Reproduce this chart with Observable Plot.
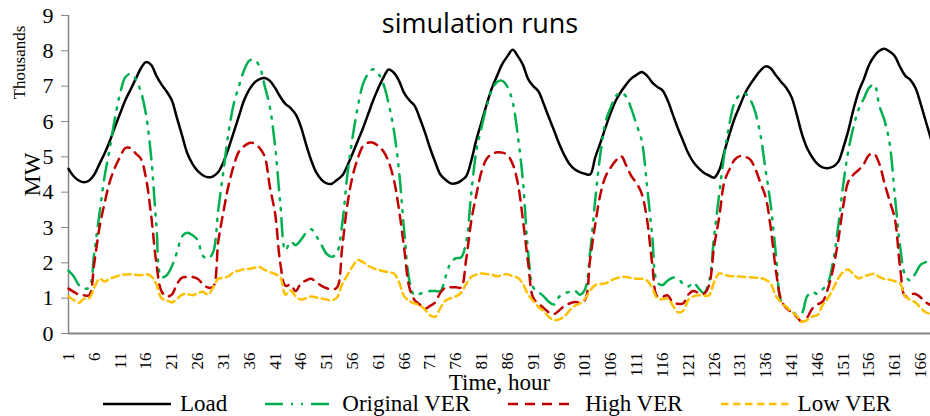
<!DOCTYPE html>
<html><head><meta charset="utf-8">
<script src="https://cdn.jsdelivr.net/npm/d3@7"></script>
<script src="https://cdn.jsdelivr.net/npm/@observablehq/plot@0.6"></script>
<style>
body{margin:0;background:#fff;}
#wrap{position:relative;width:930px;height:416px;overflow:hidden;font-family:"Liberation Serif","Times New Roman",serif;background:#fff;}
#title{position:absolute;left:330px;width:300px;top:9px;text-align:center;font:27px/27px "Open Sans",sans-serif;color:#000;}
#legend{position:relative;display:flex;align-items:center;height:23px;margin-top:-6px;padding-left:103px;font-size:23px;line-height:23px;color:#000;white-space:nowrap;}
.item{display:flex;align-items:center;margin-right:38px;}
.item svg{margin-right:9px;display:block;}
</style></head><body>
<div id="wrap"><div id="chart"></div><div id="legend"></div><div id="title">simulation runs</div></div>
<script>
const hours = d3.range(1, 169);
const xTicks = [1,6,11,16,21,26,31,36,41,46,51,56,61,66,71,76,81,86,91,96,101,106,111,116,121,126,131,136,141,146,151,156,161,166];
const yTicks = [0,1,2,3,4,5,6,7,8,9];
const seriesNames = ["Load", "Original VER", "High VER", "Low VER"];

const load = [
4.66,4.45,4.33,4.28,4.33,4.50,4.80,5.10,5.45,5.85,
6.23,6.60,6.90,7.20,7.50,7.68,7.60,7.30,7.05,6.85,
6.60,6.10,5.60,5.10,4.80,4.60,4.48,4.42,4.45,4.57,
4.85,5.25,5.70,6.15,6.60,6.90,7.10,7.20,7.23,7.15,
6.95,6.70,6.50,6.38,6.20,5.85,5.35,4.90,4.55,4.35,
4.25,4.24,4.35,4.47,4.75,5.09,5.45,5.80,6.20,6.60,
6.95,7.25,7.47,7.38,7.15,6.80,6.60,6.45,6.10,5.70,
5.25,4.85,4.50,4.35,4.25,4.25,4.32,4.45,4.90,5.50,
6.00,6.50,6.95,7.30,7.63,7.85,8.03,7.85,7.60,7.20,
7.00,6.85,6.50,6.12,5.75,5.37,5.05,4.80,4.65,4.57,
4.52,4.50,4.99,5.40,5.84,6.25,6.60,6.85,7.05,7.22,
7.32,7.40,7.30,7.11,6.98,6.88,6.60,6.20,5.80,5.45,
5.10,4.85,4.68,4.55,4.47,4.41,4.62,5.15,5.65,6.10,
6.45,6.80,7.05,7.26,7.45,7.56,7.50,7.30,7.12,6.95,
6.69,6.20,5.65,5.25,4.99,4.80,4.70,4.68,4.72,4.85,
5.25,5.75,6.35,6.85,7.20,7.60,7.85,8.00,8.06,7.98,
7.85,7.55,7.30,7.18,6.95,6.50,6.00,5.50];

const originalVER = [
1.78,1.62,1.37,1.27,1.30,2.30,3.40,4.45,5.25,6.10,
6.80,7.25,7.35,7.20,6.85,6.20,5.00,3.10,1.60,1.65,
1.90,2.30,2.75,2.85,2.78,2.65,2.20,2.12,2.30,3.50,
4.60,5.70,6.50,7.00,7.45,7.72,7.75,7.55,7.00,6.40,
5.30,3.70,2.35,2.60,2.50,2.65,2.85,2.95,2.75,2.50,
2.25,2.17,2.30,3.10,4.50,5.55,6.40,7.05,7.35,7.48,
7.35,7.05,6.50,5.75,4.60,2.90,1.50,1.08,1.12,1.17,
1.20,1.20,1.20,1.60,2.00,2.13,2.15,2.60,4.00,5.20,
5.85,6.45,6.90,7.12,7.15,6.98,6.55,5.60,4.30,2.30,
1.30,1.18,1.05,0.90,0.82,1.04,1.14,1.18,1.22,1.10,
1.25,2.30,3.80,5.10,6.00,6.40,6.72,6.82,6.70,6.35,
5.90,5.45,4.20,2.80,1.45,1.37,1.50,1.58,1.56,1.40,
1.33,1.44,1.28,1.15,1.45,2.75,3.95,5.10,5.95,6.55,
6.75,6.79,6.62,6.25,5.60,4.60,3.60,2.20,0.90,0.75,
0.65,0.53,0.58,1.05,1.18,1.12,1.25,1.42,2.00,3.00,
4.20,5.18,5.85,6.35,6.65,6.95,7.05,6.45,6.03,5.37,
3.90,2.50,1.65,1.50,1.70,1.95,2.02,2.05];

const highVER = [
1.27,1.18,1.10,1.08,1.08,2.00,3.00,3.70,4.30,4.70,
5.00,5.25,5.25,5.10,4.95,4.40,3.35,2.00,1.20,1.05,
1.10,1.40,1.58,1.60,1.60,1.55,1.40,1.30,1.32,2.60,
3.45,4.20,4.75,5.15,5.30,5.39,5.38,5.25,5.00,4.14,
3.40,2.00,1.35,1.38,1.20,1.42,1.50,1.55,1.45,1.35,
1.28,1.25,1.30,2.45,3.65,4.45,4.95,5.30,5.40,5.40,
5.30,5.15,4.85,4.35,3.50,2.40,1.30,0.95,0.82,0.70,
0.78,0.88,1.15,1.30,1.31,1.31,1.30,2.10,3.20,3.95,
4.60,4.95,5.08,5.13,5.12,5.05,4.80,4.25,3.20,2.00,
1.00,0.85,0.72,0.60,0.55,0.65,0.78,0.85,0.89,0.88,
0.95,2.10,3.10,3.95,4.45,4.70,4.90,5.02,4.75,4.45,
4.25,3.95,3.25,2.00,1.05,1.04,1.08,0.88,0.84,0.85,
1.10,1.20,1.15,1.12,1.35,2.45,3.30,4.30,4.65,4.92,
5.02,5.00,4.92,4.65,4.25,3.85,2.95,1.75,0.95,0.72,
0.60,0.47,0.33,0.45,0.70,0.82,0.90,1.25,1.80,2.60,
3.60,4.30,4.50,4.63,4.80,5.05,5.08,4.80,4.25,3.75,
3.25,1.90,1.05,1.10,1.12,1.02,0.88,0.80];

const lowVER = [
1.05,0.95,0.87,0.98,1.00,1.30,1.55,1.47,1.55,1.60,
1.65,1.67,1.68,1.66,1.65,1.68,1.62,1.40,1.00,0.94,
0.88,0.98,1.10,1.12,1.08,1.14,1.18,1.10,1.30,1.55,
1.58,1.62,1.74,1.78,1.82,1.83,1.86,1.88,1.80,1.74,
1.68,1.60,1.10,1.22,1.05,0.96,1.00,1.05,1.02,0.99,
0.96,0.94,1.02,1.40,1.65,1.90,2.08,2.02,1.92,1.85,
1.80,1.76,1.73,1.70,1.45,1.05,0.92,0.85,0.80,0.68,
0.52,0.47,0.72,0.93,1.00,1.05,1.15,1.40,1.60,1.67,
1.70,1.68,1.66,1.62,1.66,1.68,1.62,1.58,1.40,1.10,
0.92,0.75,0.63,0.47,0.38,0.40,0.48,0.65,0.78,0.85,
0.98,1.22,1.37,1.40,1.42,1.50,1.56,1.60,1.60,1.57,
1.55,1.55,1.50,1.30,1.00,0.97,0.99,0.80,0.60,0.64,
0.95,1.05,1.08,1.07,1.08,1.45,1.70,1.66,1.63,1.62,
1.61,1.60,1.59,1.58,1.57,1.52,1.40,1.05,0.88,0.75,
0.62,0.50,0.33,0.38,0.48,0.52,0.80,0.99,1.25,1.55,
1.74,1.81,1.67,1.56,1.62,1.66,1.69,1.60,1.54,1.52,
1.48,1.42,1.05,0.95,0.88,0.72,0.60,0.55];

const seriesValues = [load, originalVER, highVER, lowVER];
const seriesColors = ["#000000", "#00B050", "#C00000", "#FFC000"];
const seriesDash = [null, "18,8,2,8,2,8", "10,7", "7.5,4.5"];
const seriesWidth = [2.5, 2.5, 2.5, 2.5];

const lineMarks = seriesValues.map((vals, k) =>
  Plot.line(vals, {x: (d, i) => hours[i], y: d => d, stroke: seriesColors[k],
    strokeWidth: seriesWidth[k], strokeDasharray: seriesDash[k] ?? undefined,
    curve: "catmull-rom", strokeLinejoin: "round"}));

const chart = Plot.plot({
  width: 930, height: 398,
  marginLeft: 68, marginRight: 0, marginTop: 15, marginBottom: 65,
  style: {fontFamily: '"Liberation Serif","Times New Roman",serif', background: "white", color: "black", overflow: "hidden"},
  x: {type: "linear", domain: [hours[0], hours[hours.length - 1]], range: [68, 930.5]},
  y: {domain: [yTicks[0], yTicks[yTicks.length - 1]]},
  marks: [
    Plot.ruleX([hours[0]], {stroke: "#868686", strokeWidth: 1.5}),
    Plot.ruleY([yTicks[0]], {stroke: "#868686", strokeWidth: 2}),
    Plot.axisY({ticks: yTicks, tickSize: 7, tickPadding: 8, fontSize: 22, label: null}),
    Plot.axisX({ticks: xTicks, tickSize: 0, tickRotate: -90, tickPadding: 19, fontSize: 17, label: null}),
    ...lineMarks,
    Plot.text(["Time, hour"], {frameAnchor: "bottom", dy: 49, fontSize: 23, fill: "black", textAnchor: "middle", lineAnchor: "middle"}),
    Plot.text(["MW"], {frameAnchor: "left", dx: -36, rotate: -90, fontSize: 24, fill: "black", textAnchor: "middle", lineAnchor: "middle"}),
    Plot.text(["Thousands"], {frameAnchor: "top-left", dx: -49, dy: 47, rotate: -90, fontSize: 17, fill: "black", textAnchor: "middle", lineAnchor: "middle"})
  ]
});
chart.querySelectorAll('[aria-label="y-axis tick"]').forEach(g => g.setAttribute("stroke", "#868686"));
document.getElementById("chart").appendChild(chart);

const legend = document.getElementById("legend");
seriesNames.forEach((name, k) => {
  const item = document.createElement("div");
  item.className = "item";
  const ns = "http://www.w3.org/2000/svg";
  const s = document.createElementNS(ns, "svg");
  s.setAttribute("width", 68); s.setAttribute("height", 10);
  const l = document.createElementNS(ns, "line");
  l.setAttribute("x1", 0); l.setAttribute("x2", 68); l.setAttribute("y1", 5); l.setAttribute("y2", 5);
  l.setAttribute("stroke", seriesColors[k]); l.setAttribute("stroke-width", seriesWidth[k]);
  if (seriesDash[k]) l.setAttribute("stroke-dasharray", seriesDash[k]);
  s.appendChild(l);
  const t = document.createElement("span");
  t.textContent = name;
  item.appendChild(s); item.appendChild(t);
  legend.appendChild(item);
});
</script>
</body></html>
